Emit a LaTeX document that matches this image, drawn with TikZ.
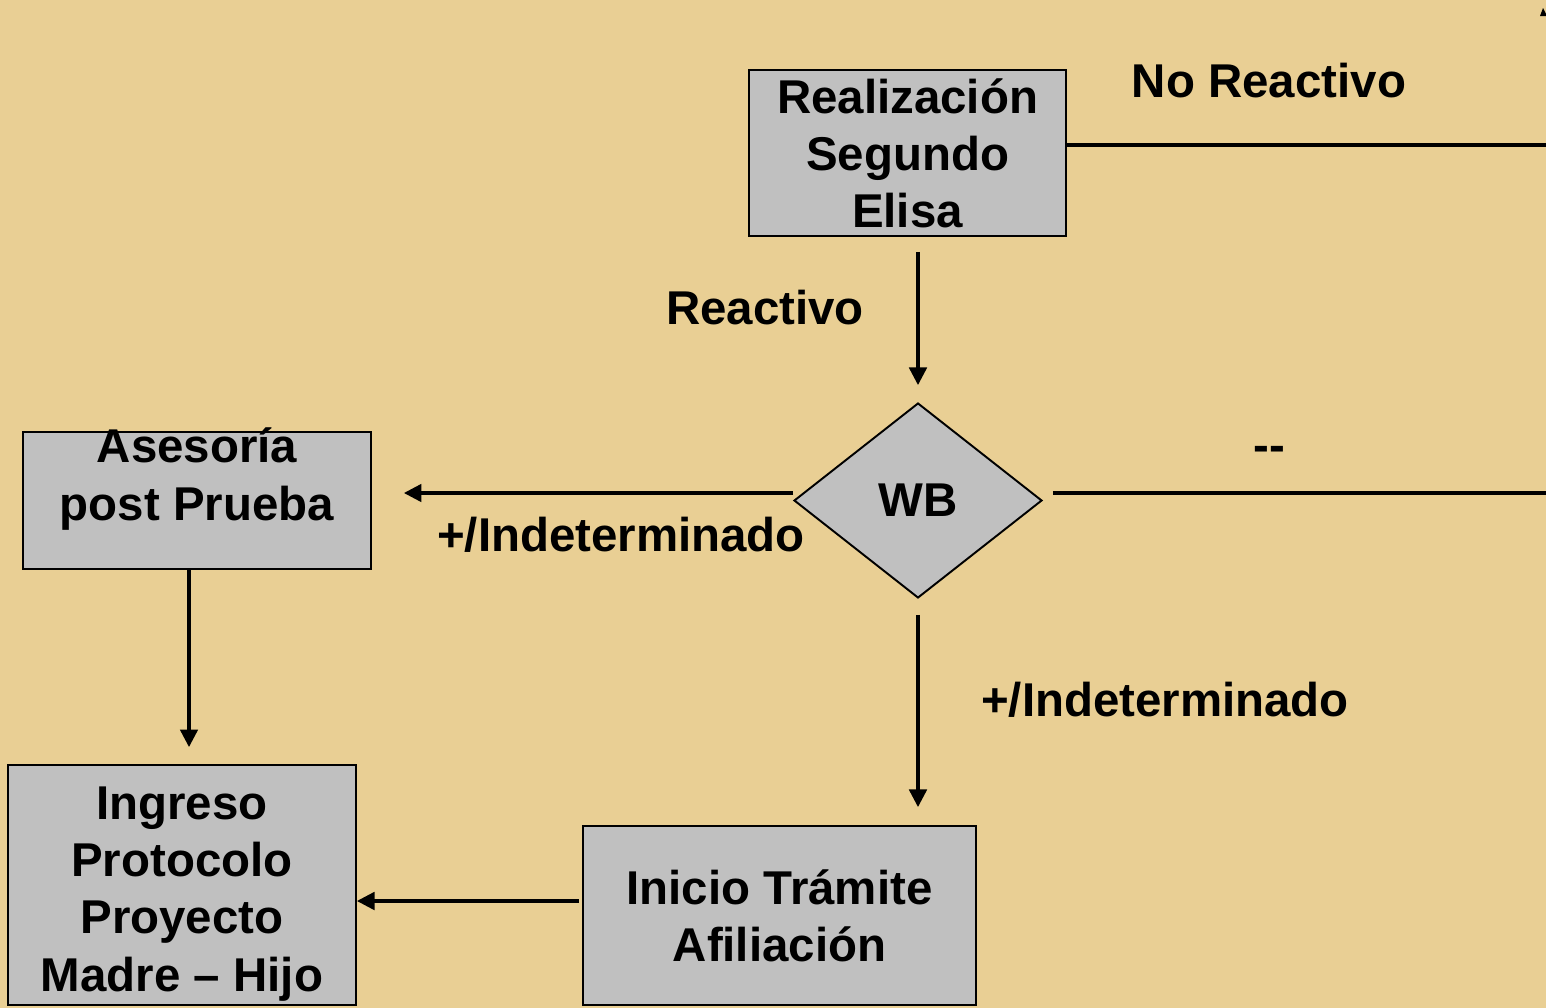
\documentclass[tikz,border=0pt]{standalone}
\usepackage{fontspec}
\setmainfont{Liberation Sans}
\usetikzlibrary{arrows.meta,shapes.geometric}

\definecolor{paper}{RGB}{233,207,148}
\definecolor{boxgray}{RGB}{192,192,192}

\begin{document}
\begin{tikzpicture}[x=0.02cm, y=-0.02cm,
          txt/.style={align=center, font=\fontsize{27}{32.5}\selectfont\bfseries, inner sep=0pt},
          box/.style={draw=black, line width=1.1pt, fill=boxgray, inner sep=0pt},
          wbshape/.style={diamond, draw=black, line width=1.1pt, fill=boxgray, inner sep=0pt,
                          minimum width=4.96cm, minimum height=3.9cm},
          ln/.style={line width=1.8pt},
          arr/.style={line width=1.8pt, -{Triangle[length=10pt, width=10pt]}}
        ]
        % background sheet, fixes the page size
        \fill[paper] (0,0) rectangle (1546,1008);
        \useasboundingbox (0,0) rectangle (1546,1008);

        % boxes
        \node[box, txt, minimum width=6.34cm, minimum height=3.32cm] (elisa) at (907.5,153)
            {Realización\\Segundo\\Elisa};
        \node[wbshape, txt] (wb) at (918,500.5) {WB};
        \node[box, minimum width=6.96cm, minimum height=2.74cm] (ases) at (197,500.5) {};
        \node[txt] (asestxt) at (197,479) {Asesoría\\post Prueba};
        \node[box, minimum width=6.96cm, minimum height=4.8cm] (ingreso) at (182,885) {};
        \node[txt] (ingresotxt) at (182,894) {Ingreso\\Protocolo\\Proyecto\\Madre -- Hijo};
        \node[box, txt, minimum width=7.86cm, minimum height=3.58cm] (inicio) at (779.5,915.5)
            {Inicio Trámite\\Afiliación};

        % free ends at the right edge
        \coordinate (nr) at (1546,145);
        \coordinate (neg) at (1546,493);

        % connectors
        \draw[ln] (elisa.east |- nr) -- (nr);
        \draw[arr, shorten <=0.3cm, shorten >=0.34cm] (elisa.south -| wb.north) -- (wb.north);
        \draw[ln, shorten <=0.2cm] (wb.east |- neg) -- (neg);
        \draw[arr, shorten >=0.64cm] (wb.west |- neg) -- (ases.east |- neg);
        \draw[arr, shorten >=0.34cm] ([xshift=-0.16cm]ases.south) -- ([xshift=-0.16cm]ases.south |- ingreso.north);
        \draw[arr, shorten <=0.32cm, shorten >=0.36cm] (wb.south) -- (wb.south |- inicio.north);
        \draw[arr, shorten <=0.06cm] ([yshift=0.29cm]inicio.west) -- ([yshift=0.29cm]inicio.west -| ingreso.east);

        % connector labels
        \node[txt] (lnr) at (1269,81) {No Reactivo};
        \node[txt] (lreac) at (765,308) {Reactivo};
        \node[txt] (lneg) at (1269,454) {-{}-};
        \node[txt] (lind1) at (621,535) {+/Indeterminado};
        \node[txt] (lind2) at (1165,700) {+/Indeterminado};

        % cut-off tip in the corner
        \fill (1543,8) -- (1547,16) -- (1540,16) -- cycle;
      \end{tikzpicture}
\end{document}
